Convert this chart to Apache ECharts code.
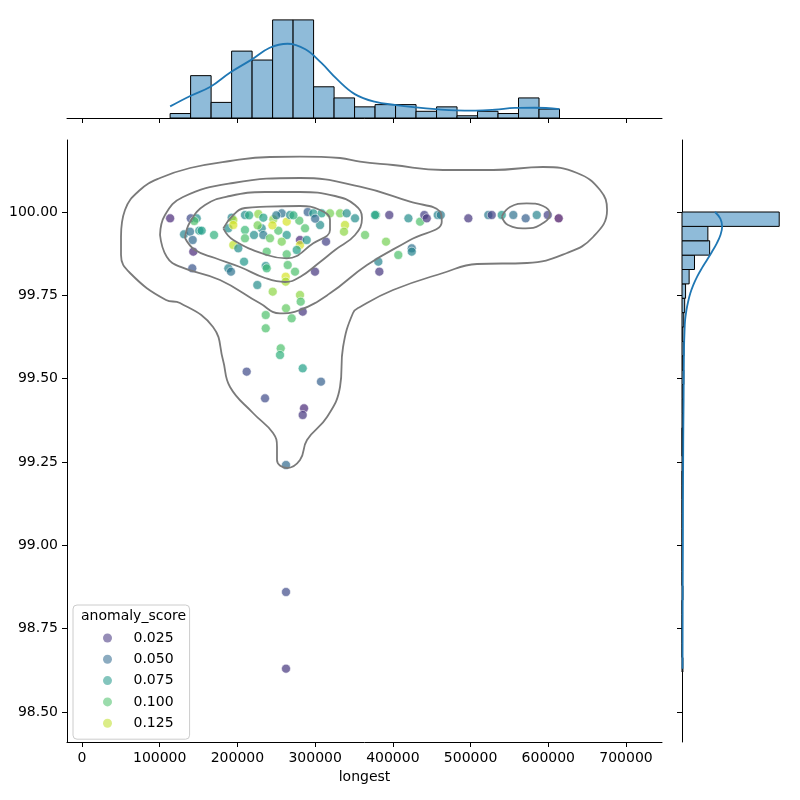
<!DOCTYPE html>
<html><head><meta charset="utf-8">
<script src="https://cdn.jsdelivr.net/npm/echarts@6/dist/echarts.min.js"></script>
<style>html,body{margin:0;padding:0;background:#fff}#c{width:800px;height:800px}</style>
</head><body><div id="c"></div>
<script>
// ---------- data ----------
const xTicks = [0, 100000, 200000, 300000, 400000, 500000, 600000, 700000];
const yTicks = [98.5, 98.75, 99.0, 99.25, 99.5, 99.75, 100.0];
const legendScores = [0.025, 0.05, 0.075, 0.1, 0.125];

// [longest, identity, anomaly_score]
const points = [
[113400,99.981,0.02],[139900,99.981,0.035],[147600,99.981,0.07],[144500,99.973,0.1],[131300,99.933,0.065],
[139000,99.941,0.055],[150900,99.944,0.075],[154000,99.944,0.08],[142400,99.916,0.05],[143200,99.881,0.02],
[141900,99.831,0.04],[169900,99.931,0.09],[188300,99.951,0.07],[192600,99.983,0.065],[194700,99.976,0.12],
[194700,99.961,0.13],[209700,99.991,0.07],[209700,99.946,0.095],[209700,99.921,0.1],[221300,99.931,0.07],
[226900,99.994,0.115],[233300,99.983,0.08],[231200,99.951,0.07],[233300,99.931,0.06],[241900,99.921,0.105],
[246200,99.978,0.115],[257000,99.996,0.055],[263400,99.971,0.13],[267700,99.991,0.07],[279600,99.974,0.1],
[263400,99.931,0.075],[252600,99.944,0.1],[280500,99.916,0.02],[280500,99.901,0.13],[289100,99.916,0.075],
[287000,99.951,0.1],[290400,100.0,0.045],[297600,99.996,0.075],[306300,99.961,0.07],[308400,99.996,0.08],
[319100,99.996,0.11],[332000,99.996,0.11],[340600,99.996,0.07],[351300,99.981,0.07],[338400,99.961,0.125],
[337100,99.941,0.115],[314000,99.911,0.03],[364200,99.931,0.105],[378300,99.991,0.095],[194700,99.901,0.125],
[201100,99.891,0.07],[188300,99.831,0.065],[191700,99.821,0.055],[208500,99.851,0.075],[237700,99.881,0.1],
[236400,99.838,0.07],[237700,99.831,0.095],[263400,99.873,0.1],[264700,99.841,0.1],[257000,99.911,0.11],
[276300,99.886,0.08],[274100,99.821,0.1],[262100,99.806,0.13],[262100,99.791,0.12],[299800,99.821,0.025],
[225600,99.781,0.07],[245400,99.761,0.115],[280500,99.751,0.115],[281400,99.731,0.1],[262500,99.711,0.105],
[284000,99.701,0.025],[236400,99.691,0.1],[269800,99.681,0.1],[236400,99.651,0.1],[381300,99.851,0.065],
[382600,99.821,0.025],[255700,99.591,0.1],[254800,99.571,0.09],[211900,99.521,0.035],[284000,99.531,0.08],
[307500,99.491,0.045],[235500,99.441,0.035],[285700,99.411,0.02],[284000,99.391,0.025],[262500,99.241,0.05],
[262500,98.86,0.035],[262500,98.63,0.025],[377000,99.991,0.08],[395400,99.991,0.025],[391200,99.911,0.11],
[420000,99.981,0.07],[435000,99.971,0.1],[440500,99.991,0.03],[443600,99.981,0.025],[457700,99.991,0.065],
[461600,99.991,0.06],[497100,99.981,0.025],[522800,99.991,0.06],[527200,99.991,0.03],[540100,99.991,0.075],
[555000,99.991,0.055],[570900,99.981,0.045],[585100,99.991,0.065],[599300,99.991,0.03],[613400,99.981,0.01],
[424300,99.891,0.055],[424300,99.881,0.065],[407000,99.871,0.1],[250000,99.99,0.06],[272000,99.99,0.09],
[226000,99.96,0.11],[300000,99.98,0.05],[215000,99.99,0.085],[245000,99.96,0.13]
];

// marginal histogram of longest
const xHistEdges = [113400,139770,166140,192510,218880,245250,271620,297990,324360,350730,377100,403470,429840,456210,482580,508950,535320,561690,588060,614430];
const xHistCounts = [2,19,7,30,26,44,44,14,9,5,6,6,3,5,1,3,2,9,4];
const xKde = [[113400,5.2],[139900,10],[165300,14],[190700,20.4],[218700,26.3],[241600,31.5],[264500,33.3],[287400,30.8],[307700,24.8],[328100,17.4],[351000,10.7],[376400,7.3],[404400,5.8],[429800,4.8],[455200,4.0],[480700,3.4],[506100,3.3],[531500,3.7],[556900,4.5],[582400,4.6],[614400,4.0]];

// marginal histogram of identity (32 bins from 98.62 to 100.0)
const yHistMin = 98.62, yHistMax = 100.0;
const yHistCounts = [1,0,0,0,0,1,0,0,0,0,0,0,0,0,1,0,0,1,1,1,2,1,2,1,2,3,4,8,14,31,29,109];
const yKde = [[37,100.0],[43,99.98],[45,99.956],[43,99.93],[39,99.906],[33.5,99.88],[28,99.856],[22,99.83],[17,99.806],[12.5,99.78],[9.3,99.756],[6.8,99.73],[5,99.706],[3.5,99.676],[2.8,99.64],[2.3,99.596],[2.0,99.52],[1.8,99.436],[1.5,99.35],[1.3,99.256],[1.1,99.13],[1.0,99.0],[0.8,98.87],[0.7,98.73],[0.6,98.63]];

// KDE contour lines of the joint density (data units)
const contour1 = [[50200,99.926],[55300,100.006],[74600,100.066],[100400,100.102],[139000,100.132],[190500,100.153],[241900,100.165],[280500,100.166],[332000,100.162],[357700,100.151],[400200,100.141],[464500,100.126],[528900,100.126],[593200,100.135],[637000,100.117],[666600,100.066],[675600,100.006],[657600,99.925],[624100,99.877],[572600,99.847],[508300,99.844],[464500,99.817],[400200,99.766],[357700,99.715],[348700,99.697],[335900,99.595],[332000,99.475],[315300,99.385],[289500,99.316],[280500,99.256],[263800,99.232],[250900,99.256],[250900,99.295],[245800,99.337],[220000,99.397],[190500,99.475],[181400,99.556],[168600,99.655],[126100,99.727],[108100,99.736],[61800,99.817],[50200,99.871]];
const contour2 = [[100400,99.931],[106800,99.991],[130000,100.045],[194300,100.087],[280500,100.102],[357700,100.076],[422100,100.031],[460700,100.001],[462900,99.971],[422100,99.916],[366700,99.841],[319100,99.756],[280500,99.706],[254800,99.696],[229000,99.726],[177600,99.796],[126100,99.836],[109000,99.866]];
const contour3 = [[132500,99.922],[139000,99.970],[158300,100.021],[190500,100.048],[235500,100.060],[280500,100.060],[325600,100.048],[351300,100.021],[360300,99.982],[351300,99.931],[325600,99.886],[306300,99.850],[280500,99.805],[261200,99.790],[235500,99.802],[203300,99.835],[171100,99.862],[145400,99.886]];
const contour4 = [[181800,99.951],[194700,99.991],[209700,100.012],[237700,100.016],[280500,100.018],[306300,100.006],[319100,99.976],[319100,99.946],[297600,99.906],[263400,99.861],[237700,99.871],[194700,99.916]];
const contour5 = [[540100,99.986],[550700,100.015],[572200,100.026],[593200,100.018],[602200,99.994],[589300,99.961],[570900,99.951],[548200,99.961]];

// ---------- styling / layout ----------
const FONT = 'DejaVu Sans';
const viridis = ['#440154','#482878','#3e4989','#31688e','#26828e','#1f9e89','#35b779','#6ece58','#b5de2b','#fde725'];
const hueMin = 0.005, hueMax = 0.138;
function hex2rgb(h){return [parseInt(h.slice(1,3),16),parseInt(h.slice(3,5),16),parseInt(h.slice(5,7),16)];}
function viridisAt(v, a){
  let t = Math.max(0, Math.min(1, (v - hueMin) / (hueMax - hueMin))) * (viridis.length - 1);
  const i = Math.min(viridis.length - 2, Math.floor(t)); const f = t - i;
  const c0 = hex2rgb(viridis[i]), c1 = hex2rgb(viridis[i+1]);
  const c = c0.map((x, k) => Math.round(x + (c1[k] - x) * f));
  return 'rgba(' + c.join(',') + ',' + a + ')';
}
const xMin = -19300, xMax = 746300, yMin = 98.41, yMax = 100.216;
const histFill = '#8fbbd9';

const closeLoop = a => a.concat([a[0]]);
const yHistWidth = (yHistMax - yHistMin) / yHistCounts.length;
const topHistData = xHistCounts.map((c, i) => [xHistEdges[i], xHistEdges[i+1], c]);
const rightHistData = yHistCounts.map((c, i) => [yHistMin + i * yHistWidth, yHistMin + (i + 1) * yHistWidth, c]);

const axisLine = {show: true, onZero: false, lineStyle: {color: '#000', width: 1}};
const tick = vals => ({show: true, length: 5, customValues: vals, lineStyle: {color: '#000', width: 1}});

const series = [];
series.push({
  type: 'scatter', xAxisIndex: 0, yAxisIndex: 0, data: points, symbolSize: 9, z: 2,
  itemStyle: {opacity: 0.7, borderColor: '#fff', borderWidth: 0.8}
});
[contour1, contour2, contour3, contour4, contour5].forEach(c => series.push({
  type: 'line', xAxisIndex: 0, yAxisIndex: 0, data: closeLoop(c), smooth: 0.45, showSymbol: false, symbol: 'none',
  silent: true, z: 3, lineStyle: {color: '#7a7a7a', width: 1.8}
}));
series.push({
  type: 'custom', xAxisIndex: 1, yAxisIndex: 1, data: topHistData, encode: {x: [0, 1], y: 2},
  renderItem: (p, api) => {
    const a = api.coord([api.value(0), api.value(2)]), b = api.coord([api.value(1), 0]);
    return {type: 'rect', shape: {x: a[0], y: a[1], width: b[0] - a[0], height: b[1] - a[1]},
      style: {fill: histFill, stroke: '#000', lineWidth: 1}};
  }
});
series.push({
  type: 'line', xAxisIndex: 1, yAxisIndex: 1, data: xKde, smooth: 0.4, showSymbol: false, symbol: 'none',
  z: 4, lineStyle: {color: '#1f77b4', width: 1.8}
});
series.push({
  type: 'custom', xAxisIndex: 2, yAxisIndex: 2, data: rightHistData, encode: {x: 2, y: [0, 1]},
  renderItem: (p, api) => {
    const a = api.coord([0, api.value(1)]), b = api.coord([api.value(2), api.value(0)]);
    return {type: 'rect', shape: {x: a[0], y: a[1], width: b[0] - a[0], height: b[1] - a[1]},
      style: {fill: histFill, stroke: '#000', lineWidth: 1}};
  }
});
series.push({
  type: 'line', xAxisIndex: 2, yAxisIndex: 2, data: yKde, smooth: 0.4, showSymbol: false, symbol: 'none',
  z: 4, lineStyle: {color: '#1f77b4', width: 1.8}
});
legendScores.forEach(s => series.push({
  type: 'scatter', name: String(s.toFixed(3)), xAxisIndex: 0, yAxisIndex: 0, data: [],
  itemStyle: {color: viridisAt(s, 0.7)}
}));

const option = {
  animation: false,
  backgroundColor: '#fff',
  textStyle: {fontFamily: FONT},
  grid: [
    {left: 67, top: 140, width: 595, height: 602},
    {left: 67, top: 15, width: 595, height: 103},
    {left: 682, top: 140, width: 103, height: 602}
  ],
  xAxis: [
    {gridIndex: 0, type: 'value', min: xMin, max: xMax, axisLine, axisTick: tick(xTicks), splitLine: {show: false},
     axisLabel: {customValues: xTicks, color: '#000', fontSize: 14, fontFamily: FONT, margin: 9, formatter: v => String(v)},
     name: 'longest', nameLocation: 'middle', nameGap: 28, nameTextStyle: {color: '#000', fontSize: 14, fontFamily: FONT}},
    {gridIndex: 1, type: 'value', min: xMin, max: xMax, axisLine, axisTick: tick(xTicks), splitLine: {show: false},
     axisLabel: {show: false, customValues: xTicks}},
    {gridIndex: 2, type: 'value', min: 0, max: 115.5, show: false}
  ],
  yAxis: [
    {gridIndex: 0, type: 'value', min: yMin, max: yMax, axisLine, axisTick: tick(yTicks), splitLine: {show: false},
     axisLabel: {customValues: yTicks, color: '#000', fontSize: 14, fontFamily: FONT, margin: 9, formatter: v => Number(v).toFixed(2)}},
    {gridIndex: 1, type: 'value', min: 0, max: 46.2, show: false},
    {gridIndex: 2, type: 'value', min: yMin, max: yMax, axisLine, axisTick: tick(yTicks), splitLine: {show: false},
     axisLabel: {show: false, customValues: yTicks}}
  ],
  visualMap: {type: 'continuous', show: false, dimension: 2, seriesIndex: 0, min: hueMin, max: hueMax, inRange: {color: viridis}},
  legend: {
    data: legendScores.map(s => s.toFixed(3)), orient: 'vertical', left: 73, top: 605,
    padding: [26, 16, 9, 30], itemGap: 7.3, itemWidth: 42, itemHeight: 9, icon: 'circle', selectedMode: false,
    backgroundColor: 'rgba(255,255,255,0.8)', borderColor: '#cccccc', borderWidth: 1, borderRadius: 4,
    textStyle: {color: '#000', fontSize: 14, lineHeight: 14, fontFamily: FONT}
  },
  graphic: [{type: 'text', left: 81, top: 609, z: 100, style: {text: 'anomaly_score', fill: '#000', font: '14px "DejaVu Sans"'}}],
  series
};
echarts.init(document.getElementById('c'), null, {renderer: 'canvas'}).setOption(option);
</script></body></html>
